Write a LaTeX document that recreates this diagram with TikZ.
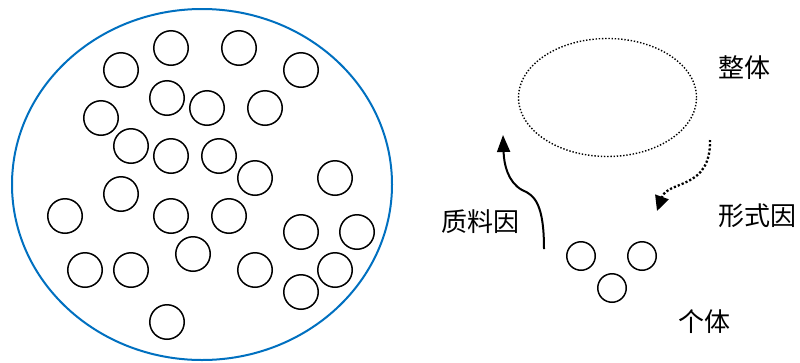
\documentclass[tikz,border=0pt]{standalone}
\usepackage{fontspec}
\newfontfamily\cjk{Noto Sans CJK SC}
\usetikzlibrary{shapes.geometric,arrows.meta}
\definecolor{bigblue}{RGB}{0,112,192}
\tikzset{
  ball/.style={circle,draw=black,line width=1.5pt,minimum size=34.5pt,inner sep=0pt},
  smallball/.style={circle,draw=black,line width=1.5pt,minimum size=28.5pt,inner sep=0pt},
  lbl/.style={font=\cjk\fontsize{26}{26}\selectfont,inner sep=0pt},
  tipA/.style={-{Triangle[length=17pt,width=13pt]}},
  tipB/.style={-{Triangle[length=15pt,width=14pt,sep=0pt]}}
}
\begin{document}
\begin{tikzpicture}[x=1pt,y=-1pt]
\useasboundingbox (0,0) rectangle (800,362);
% big ellipse
\node[ellipse,draw=bigblue,line width=2pt,minimum width=380pt,minimum height=351pt,inner sep=0pt] (whole) at (202,184.5) {};
% balls
\foreach \n/\x/\y in {c1/171/48,c2/239/48,c3/121/70,c4/301/70,c5/167/98,c6/207/108,c7/265/108,
  c8/101/118,c9/131/146,c10/171/156,c11/219/156,c12/255/178,c13/335/178,c14/121/194,
  c15/65/216,c16/171/216,c17/229/216,c18/301/232,c19/357/232,c20/193/254,c21/85/270,
  c22/131/270,c23/255/270,c24/335/270,c25/301/292,c26/167/322}
  \node[ball] (\n) at (\x,\y) {};
% dotted ellipse (whole)
\node[ellipse,draw=black,line width=1.4pt,dash pattern=on 1.4pt off 1.8pt,
  minimum width=178pt,minimum height=118pt,inner sep=0pt] (wholeb) at (607.5,97.5) {};
% small balls (individuals)
\node[smallball] (s1) at (581,256) {};
\node[smallball] (s2) at (642,256) {};
\node[smallball] (s3) at (612,288) {};
% labels
\node[lbl] (tz) at (744.5,68) {整体};
\node[lbl] (xs) at (757,216) {形式因};
\node[lbl] (zl) at (480,222) {质料因};
\node[lbl] (gt) at (704,322) {个体};
% arrow coordinates
\coordinate (ma) at (544,249);
\coordinate (mb) at (522,190);
\coordinate (mc) at (503,135);
\coordinate (fa) at (710,140);
\coordinate (fb) at (657,211);
% material cause arrow
\draw[tipA,line width=2pt] (ma) .. controls (544,205) and (535,195) .. (mb)
  .. controls (508,182) and (504,165) .. (mc);
% formal cause arrow (dotted)
\draw[tipB,line width=2.3pt,dash pattern=on 2.2pt off 2pt]
  (fa) .. controls (711,190) and (668,180) .. (fb);
\end{tikzpicture}
\end{document}
